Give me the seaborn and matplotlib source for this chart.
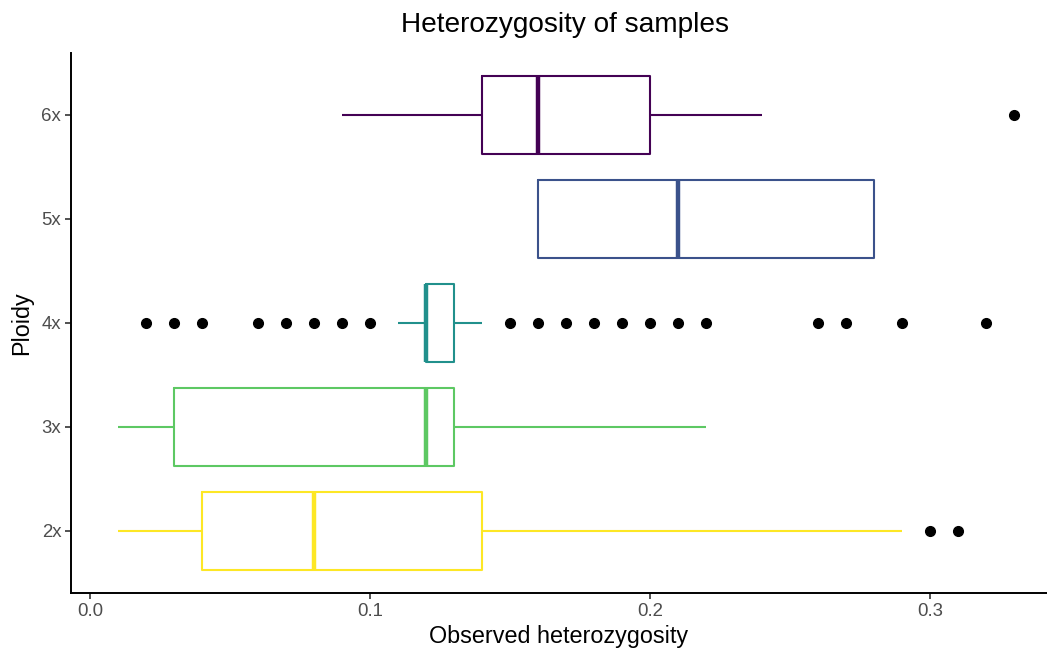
import matplotlib
matplotlib.use("Agg")
import matplotlib.pyplot as plt
import seaborn as sns
import pandas as pd

# Data (per-group samples consistent with the boxes)
ploidy_order = ["6x", "5x", "4x", "3x", "2x"]
het_2x = [0.01, 0.02, 0.03, 0.04, 0.05, 0.07, 0.08, 0.10, 0.12, 0.14, 0.29, 0.30, 0.31]
het_3x = [0.01, 0.02, 0.03, 0.08, 0.12, 0.12, 0.13, 0.18, 0.22]
het_4x = ([0.02, 0.03, 0.04, 0.06, 0.07, 0.08, 0.09, 0.10, 0.11]
          + [0.12] * 18 + [0.13] * 13 + [0.14]
          + [0.15, 0.16, 0.17, 0.18, 0.19, 0.20, 0.21, 0.22, 0.26, 0.27, 0.29, 0.32])
het_5x = [0.16, 0.16, 0.21, 0.28, 0.28]
het_6x = [0.09, 0.12, 0.14, 0.15, 0.16, 0.18, 0.20, 0.24, 0.33]
palette = {"2x": "#FDE725", "3x": "#5DC863", "4x": "#21908C", "5x": "#3B528B", "6x": "#440154"}
x_ticks = [0.0, 0.1, 0.2, 0.3]
x_tick_labels = ["0.0", "0.1", "0.2", "0.3"]

groups = {"2x": het_2x, "3x": het_3x, "4x": het_4x, "5x": het_5x, "6x": het_6x}
df = pd.DataFrame([(k, v) for k, vals in groups.items() for v in vals],
                  columns=["Ploidy", "het"])

sns.set_theme(style="white")
plt.rcParams["font.family"] = ["Liberation Sans", "DejaVu Sans"]

W, H = 1047, 650
fig = plt.figure(figsize=(W / 100, H / 100), dpi=100)
left, right, top, bottom = 71, 1047, 52.6, 593
ax = fig.add_axes([left / W, (H - bottom) / H, (right - left) / W, (bottom - top) / H])

sns.boxplot(data=df, x="het", y="Ploidy", hue="Ploidy", order=ploidy_order,
            hue_order=ploidy_order, palette=palette, fill=False, orient="h",
            width=0.75, linewidth=1.5, showcaps=False, legend=False,
            medianprops=dict(linewidth=3.2),
            flierprops=dict(marker="o", markerfacecolor="black",
                            markeredgecolor="black", markersize=7),
            ax=ax)

x0, x1 = (left - 90) / 2800, (right - 90) / 2800
ax.set_xlim(x0, x1)
ax.set_ylim(4.6, -0.6)
ax.set_xticks(x_ticks)
ax.set_xticklabels(x_tick_labels)

for s in ["top", "right"]:
    ax.spines[s].set_visible(False)
for s in ["left", "bottom"]:
    ax.spines[s].set_color("black")
    ax.spines[s].set_linewidth(1.4)

ax.tick_params(axis="both", which="major", length=4, width=1.2, color="#333333",
               labelcolor="#4D4D4D", labelsize=13.4, pad=3,
               left=True, bottom=True)
ax.set_xlabel("Observed heterozygosity", fontsize=16.8, color="black", labelpad=4)
ax.set_ylabel("Ploidy", fontsize=16.8, color="black", labelpad=6)
fig.text(565 / W, 1 - 25 / H, "Heterozygosity of samples",
         fontsize=20.2, ha="center", va="center", color="black")

fig.savefig("out.png", dpi=100)
